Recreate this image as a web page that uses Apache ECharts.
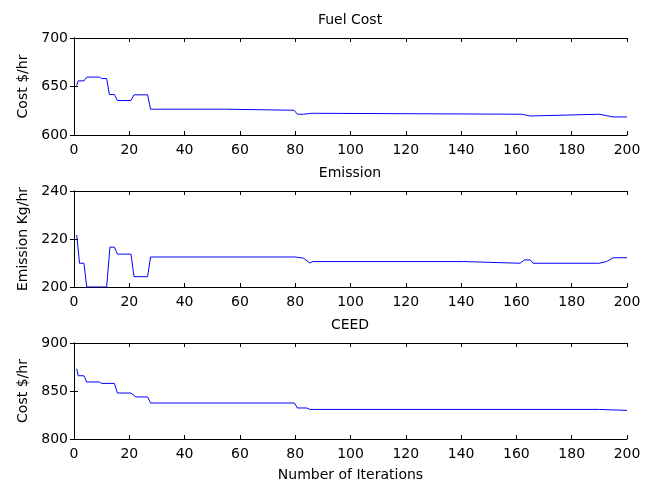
<!DOCTYPE html>
<html>
<head>
<meta charset="utf-8">
<script src="https://cdn.jsdelivr.net/npm/echarts@6/dist/echarts.min.js"></script>
<style>
  html, body { margin: 0; padding: 0; background: #fff; }
  #chart { width: 656px; height: 484px; }
</style>
</head>
<body>
<div id="chart"></div>
<script>
// iteration breakpoints: [iteration, value]
const fuelCost = [
  [1, 651], [1.5, 655.8], [3.6, 655.8], [4.6, 659.7], [9.2, 659.7], [10, 658.2],
  [11.8, 658.2], [12.8, 641.7], [14.6, 641.7], [15.7, 635.5], [20.6, 635.5],
  [21.7, 641.4], [26.6, 641.4], [27.7, 626.6], [54.8, 626.6], [55.5, 625.5],
  [79.6, 625.5], [80.8, 621.4], [83, 621.4], [83.5, 622.4], [86, 622.4],
  [86.5, 621.4], [161.9, 621.4], [162.5, 619.6], [165, 619.6], [165.5, 621.4],
  [190, 621.4], [195, 618.6], [200, 618.6]
];
const emission = [
  [1, 221.7], [2, 209.9], [3.6, 209.9], [4.6, 200], [11.8, 200], [13, 216.6],
  [14.6, 216.6], [15.7, 213.7], [20.6, 213.7], [21.7, 204.3], [26.6, 204.3],
  [27.7, 212.5], [80, 212.5], [83, 212], [85.3, 210], [86.4, 210.6],
  [140.8, 210.6], [141.5, 209.9], [161.3, 209.9], [163, 211.3], [165, 211.3],
  [166, 209.9], [190, 209.9], [192.6, 210.6], [195, 212.2], [200, 212.2]
];
const ceed = [
  [1, 873.2], [1.5, 865.9], [3.6, 865.9], [4.6, 859.4], [9.2, 859.4], [10, 857.9],
  [14.6, 857.9], [15.7, 847.9], [20.6, 847.9], [22.4, 843.8], [26.6, 843.8],
  [27.7, 837.5], [79.7, 837.5], [80.8, 832.3], [84.2, 832.3], [85.3, 830.8],
  [190, 830.8], [190.5, 829.8], [200, 829.8]
];

const titles = ['Fuel Cost', 'Emission', 'CEED'];
const yNames = ['Cost $/hr', 'Emission Kg/hr', 'Cost $/hr'];
const yRanges = [[600, 700, 50], [200, 240, 20], [800, 900, 50]];
const xRange = [0, 200, 20];
const xName = 'Number of Iterations';

const font = "'DejaVu Sans', sans-serif";
const tops = [38, 191, 343];
const heights = [97, 96, 96];

let grid = [], xAxis = [], yAxis = [], title = [], series = [];
const lineAx = { lineStyle: { color: '#000', width: 1 } };
const tickIn = { inside: true, length: 4, lineStyle: { color: '#000' } };

[fuelCost, emission, ceed].forEach((data, i) => {
  grid.push({ left: 74, width: 553, top: tops[i], height: heights[i] });
  title.push({
    text: titles[i], left: 350, top: tops[i] - 25, padding: 0, textAlign: 'center',
    textStyle: { fontFamily: font, fontSize: 14, fontWeight: 'normal', color: '#000' }
  });
  const base = { type: 'value', gridIndex: i, min: xRange[0], max: xRange[1], interval: xRange[2],
    splitLine: { show: false }, axisLine: lineAx, axisTick: tickIn };
  xAxis.push(Object.assign({}, base, {
    position: 'bottom',
    name: i === 2 ? xName : '', nameLocation: 'middle', nameGap: 29,
    nameTextStyle: { fontFamily: font, fontSize: 14, color: '#000' },
    axisLabel: { margin: 8, fontFamily: font, fontSize: 14, color: '#000' }
  }));
  xAxis.push(Object.assign({}, base, { position: 'top', axisLabel: { show: false } }));
  const r = yRanges[i];
  const ybase = { type: 'value', gridIndex: i, min: r[0], max: r[1], interval: r[2],
    splitLine: { show: false }, axisLine: lineAx, axisTick: tickIn };
  yAxis.push(Object.assign({}, ybase, {
    position: 'left',
    name: yNames[i], nameLocation: 'middle', nameRotate: 90, nameGap: 44,
    nameTextStyle: { fontFamily: font, fontSize: 14, color: '#000' },
    axisLabel: { margin: 6, fontFamily: font, fontSize: 14, color: '#000' }
  }));
  yAxis.push(Object.assign({}, ybase, { position: 'right', axisLabel: { show: false } }));
  series.push({
    type: 'line', xAxisIndex: i * 2, yAxisIndex: i * 2, data: data,
    showSymbol: false, silent: true,
    lineStyle: { color: '#0000ff', width: 1 }
  });
});

let $chart = echarts.init(document.getElementById('chart'));
$chart.setOption({
  animation: false,
  backgroundColor: '#fff',
  title: title,
  grid: grid,
  xAxis: xAxis,
  yAxis: yAxis,
  series: series
});
</script>
</body>
</html>
